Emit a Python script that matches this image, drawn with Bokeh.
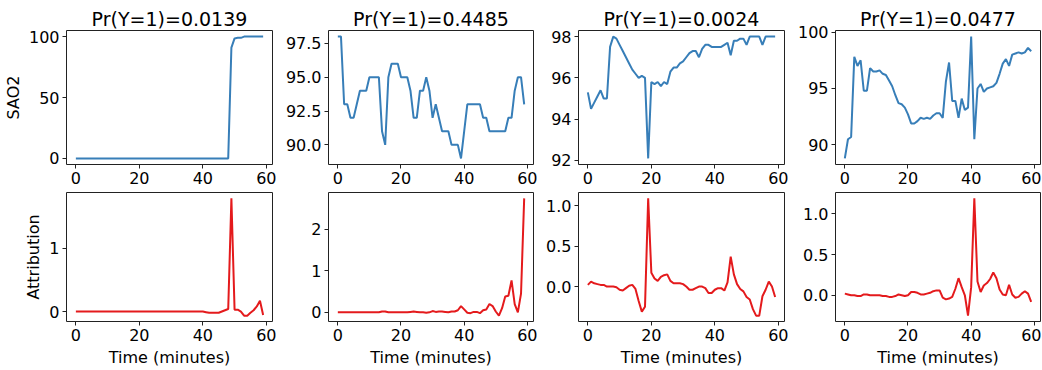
from bokeh.plotting import figure
from bokeh.layouts import row, column
from bokeh.models import FixedTicker
from bokeh.embed import file_html
from bokeh.resources import INLINE

minutes = list(range(60))

titles = ["Pr(Y=1)=0.0139", "Pr(Y=1)=0.4485", "Pr(Y=1)=0.0024", "Pr(Y=1)=0.0477"]

sao2_1 = [0] * 49 + [91, 98.5, 99, 99, 100, 100, 100, 100, 100, 100, 100]
sao2_2 = [98, 98, 93, 93, 92, 92, 93, 94, 94, 94, 95, 95, 95, 95, 91, 90, 95, 96, 96, 96,
          95, 95, 95, 94, 92, 92, 94, 94, 95, 94, 92, 93, 92, 91, 91, 91, 90, 90, 90, 89,
          91, 93, 93, 93, 93, 93, 92, 92, 91, 91, 91, 91, 91, 91, 92, 92, 94, 95, 95, 93]
sao2_3 = [95.3, 94.5, 94.8, 95.1, 95.4, 95.0, 95.0, 97.5, 98.0, 97.9, 97.6, 97.3, 97.0, 96.7,
          96.4, 96.2, 96.0, 96.1, 96.0, 92.1, 95.8, 95.7, 95.8, 95.6, 95.8, 95.7, 96.3, 96.5,
          96.5, 96.7, 96.8, 97.0, 97.2, 97.3, 97.3, 97.0, 97.4, 97.6, 97.6, 97.5, 97.5, 97.5,
          97.5, 97.6, 97.7, 97.1, 97.8, 97.8, 97.9, 97.9, 97.6, 98.0, 98.0, 98.0, 98.0, 97.6,
          98.0, 98.0, 98.0, 98.0]
sao2_4 = [88.8, 90.5, 90.7, 97.8, 97.0, 97.5, 94.8, 94.8, 96.8, 96.5, 96.5, 96.6, 96.3, 96.2,
          95.7, 95.2, 94.4, 93.7, 93.6, 93.3, 92.7, 91.9, 91.9, 92.1, 92.4, 92.3, 92.4, 92.3,
          92.6, 92.8, 92.8, 92.4, 95.6, 97.3, 93.9, 93.9, 92.4, 94.1, 93.1, 93.3, 99.6, 90.5,
          95.0, 95.4, 94.7, 95.0, 95.1, 95.2, 95.5, 96.3, 97.2, 97.6, 97.0, 98.0, 98.1, 98.2,
          98.1, 98.2, 98.6, 98.3]

attr_1 = [0.0] * 41 + [-0.01, -0.02, -0.02, -0.02, -0.02, 0.0, 0.02, 0.04, 1.79, 0.03, 0.03,
                       0.0, -0.065, -0.065, -0.02, 0.02, 0.08, 0.17, -0.055]
attr_2 = [0.0, 0.0, 0.0, 0.0, 0.0, 0.0, 0.0, 0.0, 0.0, 0.0, 0.0, 0.0, 0.0, 0.0, 0.02, 0.02,
          0.0, 0.0, 0.0, 0.0, 0.0, 0.0, 0.0, 0.01, 0.02, 0.01, 0.0, 0.0, -0.01, 0.0, 0.03,
          0.01, 0.02, 0.02, 0.01, 0.0, 0.02, 0.02, 0.05, 0.15, 0.07, -0.01, -0.02, 0.01, 0.01,
          -0.02, 0.05, 0.07, 0.2, 0.15, 0.02, -0.08, 0.1, 0.38, 0.4, 0.77, 0.2, 0.0, 0.45, 2.75]
attr_3 = [0.02, 0.06, 0.04, 0.03, 0.02, 0.02, 0.0, 0.0, 0.0, -0.01, -0.04, -0.05, -0.02, 0.01,
          0.02, -0.03, -0.18, -0.31, -0.25, 1.09, 0.17, 0.1, 0.07, 0.12, 0.14, 0.15, 0.07, 0.04,
          0.04, 0.04, 0.03, 0.0, -0.04, -0.04, -0.02, 0.0, 0.0, -0.02, -0.08, -0.08, -0.04,
          -0.02, -0.02, -0.05, 0.05, 0.37, 0.15, 0.03, -0.03, -0.06, -0.13, -0.16, -0.28, -0.36,
          -0.36, -0.12, -0.04, 0.06, 0.0, -0.13]
attr_4 = [0.02, 0.01, 0.0, 0.0, -0.01, -0.01, 0.01, 0.01, 0.0, 0.0, 0.0, 0.0, -0.01, -0.01,
          -0.02, -0.02, -0.01, 0.01, 0.0, -0.01, 0.0, 0.04, 0.04, 0.03, 0.01, 0.01, 0.02, 0.03,
          0.05, 0.06, 0.06, -0.03, -0.05, -0.04, -0.02, 0.08, 0.21, 0.1, 0.0, -0.25, 0.1, 1.19,
          0.17, 0.04, 0.12, 0.15, 0.2, 0.28, 0.21, 0.07, 0.01, 0.0, 0.13, 0.01, -0.03, -0.02,
          0.02, 0.05, 0.02, -0.08]

x_ticks = [0, 20, 40, 60]
x_tick_labels = ["0", "20", "40", "60"]
top_ticks = [[0, 50, 100], [90, 92.5, 95, 97.5], [92, 94, 96, 98], [90, 95, 100]]
top_tick_labels = [["0", "50", "100"], ["90.0", "92.5", "95.0", "97.5"],
                   ["92", "94", "96", "98"], ["90", "95", "100"]]
bot_ticks = [[0, 1], [0, 1, 2], [0, 0.5, 1.0], [0, 0.5, 1.0]]
bot_tick_labels = [["0", "1"], ["0", "1", "2"], ["0.0", "0.5", "1.0"], ["0.0", "0.5", "1.0"]]

sao2 = [sao2_1, sao2_2, sao2_3, sao2_4]
attr = [attr_1, attr_2, attr_3, attr_4]

FONT = "DejaVu Sans"
BLUE = "#377eb8"
RED = "#e41a1c"

lefts = [64, 43, 33, 38]
rights = [10, 10, 10, 1]
FRAME_W = 208
FRAME_H = 134


def style(p, xt, xl, yt, yl):
    p.grid.visible = False
    p.outline_line_color = "#222222"
    p.outline_line_width = 1
    for ax in (p.xaxis[0], p.yaxis[0]):
        ax.axis_line_color = None
        ax.major_tick_in = 0
        ax.major_tick_out = 4
        ax.major_tick_line_color = "#222222"
        ax.minor_tick_line_color = None
        ax.major_label_standoff = 3
        ax.major_label_text_font = FONT
        ax.major_label_text_font_size = "16px"
        ax.major_label_text_color = "#000000"
        ax.axis_label_text_font = FONT
        ax.axis_label_text_font_size = "16px"
        ax.axis_label_text_font_style = "normal"
        ax.axis_label_text_color = "#000000"
        ax.axis_label_standoff = 3
    p.xaxis[0].ticker = FixedTicker(ticks=xt)
    p.xaxis[0].major_label_overrides = {t: s for t, s in zip(xt, xl)}
    p.yaxis[0].ticker = FixedTicker(ticks=yt)
    p.yaxis[0].major_label_overrides = {t: s for t, s in zip(yt, yl)}


tops = []
bots = []
for i in range(4):
    w = lefts[i] + FRAME_W + rights[i]
    pt = figure(width=w, height=30 + FRAME_H + 26, output_backend="svg", toolbar_location=None,
                title=titles[i], min_border_left=lefts[i], min_border_right=rights[i],
                min_border_top=30, min_border_bottom=26)
    pt.title.text_font = FONT
    pt.title.text_font_size = "19px"
    pt.title.text_font_style = "normal"
    pt.title.text_color = "#000000"
    pt.title.align = "center"
    pt.title.vertical_align = "bottom"
    pt.title.standoff = 2
    pt.title.offset = 0
    pt.line(minutes, sao2[i], line_color=BLUE, line_width=2)
    style(pt, x_ticks, x_tick_labels, top_ticks[i], top_tick_labels[i])
    if i == 0:
        pt.yaxis[0].axis_label = "SAO2"

    pb = figure(width=w, height=2 + FRAME_H + 43, output_backend="svg", toolbar_location=None,
                min_border_left=lefts[i], min_border_right=rights[i],
                min_border_top=2, min_border_bottom=43)
    pb.line(minutes, attr[i], line_color=RED, line_width=2)
    style(pb, x_ticks, x_tick_labels, bot_ticks[i], bot_tick_labels[i])
    pb.xaxis[0].axis_label = "Time (minutes)"
    pb.xaxis[0].axis_label_standoff = 4
    if i == 0:
        pb.yaxis[0].axis_label = "Attribution"
    tops.append(pt)
    bots.append(pb)

layout = row(*[column(tops[i], bots[i]) for i in range(4)])

open("out.html", "w").write(file_html(layout, INLINE))
